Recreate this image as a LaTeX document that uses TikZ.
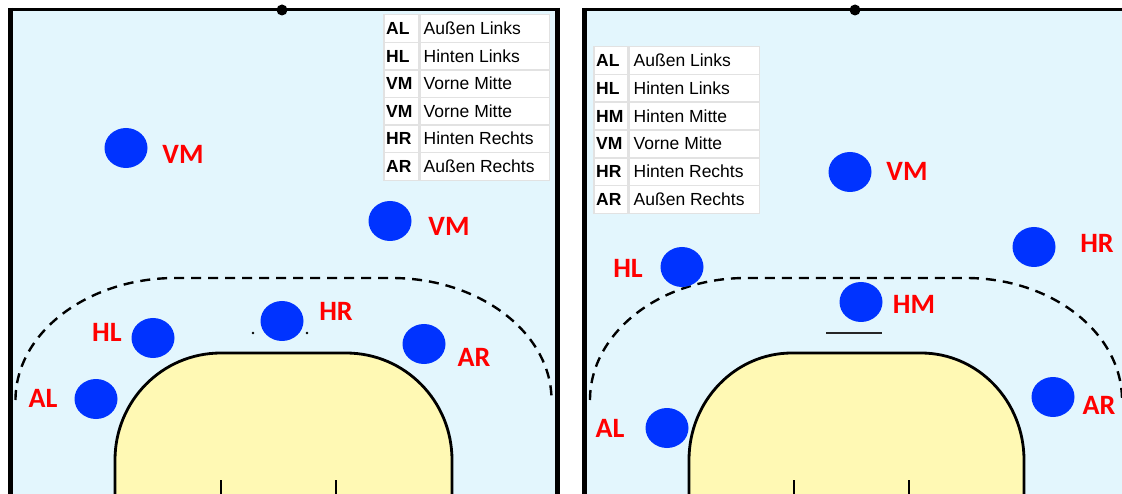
\documentclass[tikz,border=0pt]{standalone}
\usepackage{fontspec}
\setmainfont{Liberation Sans}
\newfontfamily\tagfont{Carlito}
\usetikzlibrary{shapes.geometric}

\definecolor{court}{HTML}{E3F6FD}
\definecolor{goalarea}{HTML}{FFF9B4}
\definecolor{pblue}{HTML}{0033FF}
\definecolor{tagred}{HTML}{FF0000}
\definecolor{gridgray}{HTML}{E2E2E2}

\tikzset{
	player/.style={ellipse,fill=pblue,minimum width=43pt,minimum height=40pt,inner sep=0pt},
	tag/.style={text=tagred,font=\tagfont\bfseries\fontsize{28}{28}\selectfont,inner sep=0pt},
	goal/.style={fill=goalarea,draw=black,line width=2.8pt},
	freeline/.style={draw=black,line width=2.4pt,dash pattern=on 10pt off 7pt},
	cell/.style={fill=white,draw=gridgray,line width=1.5pt,minimum height=27.6pt,inner sep=0pt},
	abbr/.style={font=\bfseries\fontsize{17.5}{17.5}\selectfont,anchor=west,inner sep=0pt,text height=12pt,text depth=0pt},
	posname/.style={font=\fontsize{17.5}{17.5}\selectfont,anchor=west,inner sep=0pt,text height=12pt,text depth=0pt}
}

\begin{document}
\begin{tikzpicture}[x=1pt,y=-1pt]
	\useasboundingbox (0,0) rectangle (1122,494);
	\fill[court] (13,10) rectangle (555,494);
	\fill[court] (587,10) rectangle (1122,494);
	\draw[line width=5pt] (10.5,8) -- (10.5,494);
	\draw[line width=5pt] (557.5,8) -- (557.5,494);
	\draw[line width=2.5pt] (8,9.5) -- (560,9.5);
	\draw[line width=5pt] (584.5,8) -- (584.5,494);
	\draw[line width=2.5pt] (582,9.5) -- (1122,9.5);
	\node[circle,fill=black,inner sep=0pt,minimum size=11pt] (lmark) at (282,10) {};
	\node[circle,fill=black,inner sep=0pt,minimum size=11pt] (rmark) at (855,10) {};

	\draw[freeline] (15.5,400) .. controls (15.5,333) and (87.5,278) .. (175.5,278) -- (391.5,278) .. controls (479.5,278) and (551.5,333) .. (551.5,400);
	\draw[freeline] (590,400) .. controls (590,333) and (660,278) .. (746,278) -- (966,278) .. controls (1052,278) and (1122,333) .. (1122,400);

	\path[goal] (115,494) -- (115,460) .. controls (115,401) and (162,353) .. (221,353) -- (346,353) .. controls (405,353) and (452,401) .. (452,460) -- (452,494);
	\path[goal] (689,494) -- (689,460) .. controls (689,401) and (735,353) .. (792,353) -- (921,353) .. controls (978,353) and (1024,401) .. (1024,460) -- (1024,494);
	\draw[line width=2pt] (221,494) -- (221,480);
	\draw[line width=2pt] (336,494) -- (336,480);
	\draw[line width=2pt] (794,494) -- (794,480);
	\draw[line width=2pt] (909,494) -- (909,480);
	\fill (253,333) circle (1.4);
	\fill (307,333) circle (1.4);
	\draw[line width=2pt,draw=black!85] (826,333) -- (882,333);

	\node[player] (lvm1) at (126,148) {};
	\node[player] (lvm2) at (390,221) {};
	\node[player] (lhl) at (153,338) {};
	\node[player] (lhr) at (282,321) {};
	\node[player] (lar) at (424,344) {};
	\node[player] (lal) at (96,399) {};
	\node[tag] (lvm1t) at ([shift={(57,6)}]lvm1.center) {VM};
	\node[tag] (lvm2t) at ([shift={(59,5)}]lvm2.center) {VM};
	\node[tag] (lhlt) at ([shift={(-46,-6)}]lhl.center) {HL};
	\node[tag] (lhrt) at ([shift={(54,-10)}]lhr.center) {HR};
	\node[tag] (lart) at ([shift={(50,13)}]lar.center) {AR};
	\node[tag] (lalt) at ([shift={(-53,-1)}]lal.center) {AL};

	\node[player] (rvm) at (850,172) {};
	\node[player] (rhr) at (1034,247) {};
	\node[player] (rhl) at (682,267) {};
	\node[player] (rhm) at (861,302) {};
	\node[player] (rar) at (1053,397) {};
	\node[player] (ral) at (667,428) {};
	\node[tag] (rvmt) at ([shift={(57,-1)}]rvm.center) {VM};
	\node[tag] (rhrt) at ([shift={(63,-4)}]rhr.center) {HR};
	\node[tag] (rhlt) at ([shift={(-54,1)}]rhl.center) {HL};
	\node[tag] (rhmt) at ([shift={(53,2)}]rhm.center) {HM};
	\node[tag] (rart) at ([shift={(46,8)}]rar.center) {AR};
	\node[tag] (ralt) at ([shift={(-57,0)}]ral.center) {AL};

	\foreach \ab/\full [count=\i] in {AL/Außen Links,HL/Hinten Links,VM/Vorne Mitte,VM/Vorne Mitte,HR/Hinten Rechts,AR/Außen Rechts}{
		\node[cell,minimum width=35pt,anchor=north west] (lk\i) at (383,{14+27.6*(\i-1)}) {};
		\node[cell,minimum width=129pt,anchor=west] (lv\i) at (lk\i.east) {};
		\node[abbr] (la\i) at ([xshift=3pt]lk\i.west) {\ab};
		\node[posname] (ln\i) at ([xshift=4pt]lv\i.west) {\full};
	}
	\foreach \ab/\full [count=\i] in {AL/Außen Links,HL/Hinten Links,HM/Hinten Mitte,VM/Vorne Mitte,HR/Hinten Rechts,AR/Außen Rechts}{
		\node[cell,minimum width=34pt,anchor=north west] (rk\i) at (593,{46+27.8*(\i-1)}) {};
		\node[cell,minimum width=130pt,anchor=west] (rv\i) at (rk\i.east) {};
		\node[abbr] (ra\i) at ([xshift=3pt]rk\i.west) {\ab};
		\node[posname] (rn\i) at ([xshift=5pt]rv\i.west) {\full};
	}
\end{tikzpicture}
\end{document}
